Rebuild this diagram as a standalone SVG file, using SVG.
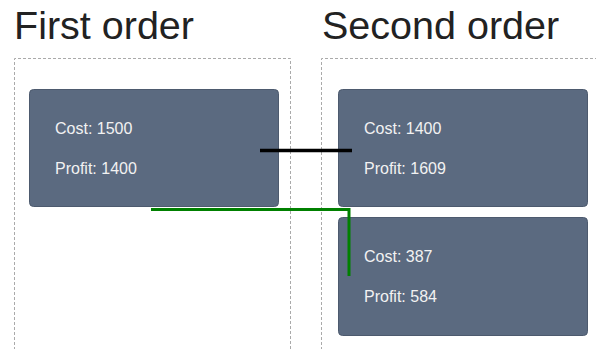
<svg xmlns="http://www.w3.org/2000/svg" width="596" height="349" viewBox="0 0 596 349">
<style>
.title{font-family:"Liberation Sans",Arial,sans-serif;font-size:39.5px;fill:#222}
.cont{fill:none;stroke:#aaa;stroke-width:1;stroke-dasharray:3 2}
.node rect{fill:#5b6a80;stroke:#4d5a6e;stroke-width:1}
.node text{font-family:"Liberation Sans",Arial,sans-serif;font-size:16px;fill:#f2f2f2}
</style>
<rect width="596" height="349" fill="#fff"/>
<text class="title" x="14" y="39">First order</text>
<text class="title" x="322" y="39">Second order</text>
<path class="cont" d="M14.5,360 V58.5 H290.5 V360"/>
<path class="cont" d="M321.5,360 V58.5 H600"/>
<g id="node1" class="node">
<rect x="29.5" y="89.5" width="249" height="117" rx="4"/>
<text x="55" y="134">Cost: 1500</text>
<text x="55" y="174">Profit: 1400</text>
</g>
<g id="node2" class="node">
<rect x="338.5" y="89.5" width="249" height="117" rx="4"/>
<text x="364" y="134">Cost: 1400</text>
<text x="364" y="174">Profit: 1609</text>
</g>
<g id="node3" class="node">
<rect x="338.5" y="217.5" width="249" height="118" rx="4"/>
<text x="364" y="262">Cost: 387</text>
<text x="364" y="302">Profit: 584</text>
</g>
<g id="connectors" fill="none">
<path d="M260,150.5 H352" stroke="#000" stroke-width="3.5"/>
<path d="M151,209.5 H349 V276" stroke="#008000" stroke-width="3" stroke-linejoin="miter" stroke-linecap="butt"/>
</g>
</svg>
